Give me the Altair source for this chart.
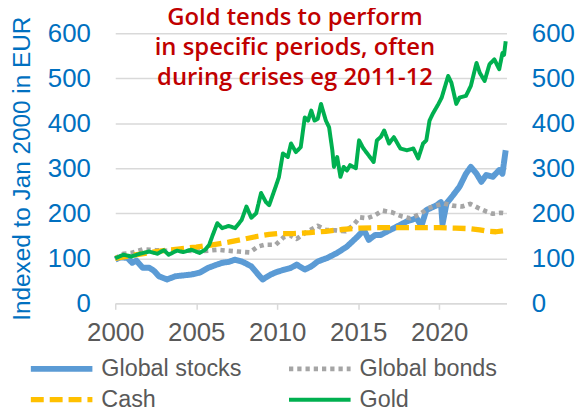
import altair as alt
import pandas as pd

# ---- data ----
series_names = ["Global stocks", "Global bonds", "Cash", "Gold"]   # drawing order
legend_order = ["Global stocks", "Cash", "Global bonds", "Gold"]   # column-major legend order
legend_colors = ["#5B9BD5", "#FFC000", "#A5A5A5", "#00B050"]
legend_dashes = [[1, 0], [13, 6], [4.3, 4], [1, 0]]
legend_widths = [6, 4, 4.5, 3]

stocks_year = [2000.0, 2000.3, 2000.75, 2001.05, 2001.3, 2001.7, 2002.1, 2002.4, 2002.7, 2003.2,
               2003.7, 2004.2, 2004.7, 2005.2, 2005.75, 2006.2, 2006.6, 2007.0, 2007.4, 2007.8,
               2008.1, 2008.4, 2008.8, 2009.1, 2009.6, 2010.0, 2010.45, 2010.8, 2011.2, 2011.7,
               2012.1, 2012.5, 2013.1, 2013.7, 2014.3, 2014.95, 2015.35, 2015.65, 2016.05, 2016.4,
               2016.8, 2017.2, 2018.0, 2018.6, 2018.9, 2019.2, 2019.85, 2020.1, 2020.2, 2020.45,
               2020.85, 2021.25, 2021.65, 2021.95, 2022.3, 2022.6, 2022.9, 2023.3, 2023.7, 2023.9,
               2024.1]
stocks_value = [97, 102, 101, 90, 95, 79, 79, 72, 60, 53,
                60, 62, 64, 68, 79, 85, 90, 92, 97, 93,
                88, 82, 65, 53, 64, 70, 75, 78, 86, 75,
                82, 93, 101, 112, 126, 148, 163, 141, 152, 152,
                160, 167, 182, 189, 172, 207, 218, 225, 176, 222,
                240, 259, 288, 303, 288, 270, 285, 281, 296, 288,
                340]

bonds_year = [2000.0, 2000.5, 2001.0, 2001.7, 2002.5, 2003.5, 2004.5, 2005.1, 2006.3, 2006.9,
              2007.6, 2008.3, 2008.8, 2009.2, 2009.9, 2010.4, 2010.8, 2011.2, 2011.7, 2012.5,
              2013.0, 2013.6, 2014.2, 2014.7, 2015.1, 2015.55, 2016.0, 2016.5, 2017.1, 2017.7,
              2018.2, 2018.8, 2019.3, 2019.8, 2020.3, 2020.8, 2021.4, 2021.9, 2022.4, 2022.9,
              2023.3, 2023.8, 2024.1]
bonds_value = [100, 110, 112, 120, 118, 116, 117, 115, 119, 117,
               115, 113, 126, 130, 130, 147, 151, 143, 156, 172,
               163, 162, 160, 174, 191, 189, 195, 206, 202, 193,
               189, 198, 211, 217, 222, 217, 215, 221, 212, 204,
               199, 201, 200]

cash_year = [2000.0, 2001.0, 2002.0, 2003.0, 2004.0, 2005.0, 2006.0, 2007.0, 2008.0, 2008.8,
             2009.5, 2010.0, 2011.0, 2012.0, 2013.0, 2014.0, 2015.0, 2016.0, 2017.0, 2018.0,
             2019.0, 2020.0, 2021.0, 2021.8, 2022.5, 2023.0, 2023.5, 2024.1]
cash_value = [100, 106, 112, 117, 121, 125, 130, 136, 143, 149,
              153, 155, 155, 157, 160, 164, 167, 168, 168, 168,
              168, 168, 167, 166, 163, 160, 159, 162]

gold_year = [2000.0, 2000.5, 2001.0, 2001.5, 2002.1, 2002.6, 2003.0, 2003.3, 2003.8, 2004.2,
             2004.7, 2005.2, 2005.55, 2005.8, 2006.0, 2006.3, 2006.6, 2007.0, 2007.4, 2007.8,
             2008.1, 2008.4, 2008.7, 2009.0, 2009.3, 2009.5, 2009.9, 2010.1, 2010.35, 2010.65,
             2010.85, 2011.15, 2011.45, 2011.7, 2011.9, 2012.1, 2012.3, 2012.5, 2012.7, 2013.0,
             2013.2, 2013.4, 2013.5, 2013.7, 2013.9, 2014.1, 2014.3, 2014.5, 2014.85, 2015.05,
             2015.3, 2015.55, 2015.95, 2016.15, 2016.4, 2016.6, 2016.9, 2017.2, 2017.6, 2018.0,
             2018.4, 2018.7, 2019.0, 2019.2, 2019.4, 2019.6, 2019.95, 2020.15, 2020.55, 2020.75,
             2021.05, 2021.25, 2021.65, 2021.95, 2022.3, 2022.5, 2022.8, 2023.1, 2023.4, 2023.7,
             2023.9, 2024.0, 2024.1]
gold_value = [100, 108, 104, 110, 115, 110, 118, 108, 117, 114,
              119, 112, 119, 130, 150, 178, 167, 172, 167, 185,
              215, 190, 200, 245, 225, 218, 259, 280, 333, 325,
              355, 336, 347, 413, 406, 428, 406, 410, 443, 406,
              391, 340, 303, 325, 281, 303, 295, 307, 300, 362,
              345, 333, 314, 362, 370, 384, 355, 369, 344, 340,
              344, 322, 355, 362, 406, 421, 443, 457, 505, 490,
              443, 457, 461, 483, 534, 512, 494, 531, 542, 520,
              556, 552, 582]

x_ticks = [2000, 2005, 2010, 2015, 2020]
y_ticks = [0, 100, 200, 300, 400, 500, 600]
title_lines = ["Gold tends to perform", "in specific periods, often", "during crises eg 2011-12"]

# ---- build table ----
frames = []
for name, yrs, vals in [("Global stocks", stocks_year, stocks_value),
                        ("Global bonds", bonds_year, bonds_value),
                        ("Cash", cash_year, cash_value),
                        ("Gold", gold_year, gold_value)]:
    frames.append(pd.DataFrame({"series": name, "year": yrs, "value": vals}))
df = pd.concat(frames, ignore_index=True)

FONT = "Liberation Sans"
BLUE = "#0070C0"
GREY = "#595959"
GRID = "#D9D9D9"

legend = alt.Legend(
    title=None, orient="none", legendX=-88, legendY=323, columns=2,
    symbolType="stroke", symbolSize=3844, labelFontSize=23.5, labelColor=GREY,
    labelFont=FONT, labelOffset=6, columnPadding=44, rowPadding=1, padding=0,
    clipHeight=30, labelLimit=300,
)

x_enc = alt.X("year:Q", scale=alt.Scale(domain=[2000, 2024.15], nice=False, zero=False),
              axis=alt.Axis(values=x_ticks, format="d", title=None, grid=False,
                            domainColor=GRID, domainWidth=1.5, tickColor=GRID, tickWidth=1.5,
                            tickSize=6, labelFontSize=26, labelColor=GREY, labelFont=FONT,
                            labelPadding=10, labelFlush=False))
y_scale = alt.Scale(domain=[0, 600], nice=False)
left_axis = alt.Axis(values=y_ticks, title="Indexed to Jan 2000 in EUR", domain=False, ticks=False,
                     grid=True, gridColor=GRID, gridWidth=1.5, labelFontSize=26, labelColor=BLUE,
                     labelFont=FONT, labelPadding=25, titleColor=BLUE, titleFontSize=24.5,
                     titleFontWeight="normal", titleFont=FONT, titlePadding=13)
right_axis = alt.Axis(values=y_ticks, title=None, orient="right", domain=False, ticks=False,
                      grid=False, labelFontSize=26, labelColor=BLUE, labelFont=FONT,
                      labelPadding=25)

color_enc = alt.Color("series:N", scale=alt.Scale(domain=legend_order, range=legend_colors), legend=legend)
dash_enc = alt.StrokeDash("series:N", scale=alt.Scale(domain=legend_order, range=legend_dashes),
                          legend=legend)
width_enc = alt.StrokeWidth("series:N", scale=alt.Scale(domain=legend_order, range=legend_widths),
                            legend=legend)

layers = []
for name in series_names:
    if name == "Global stocks":
        yax = left_axis
    elif name == "Gold":
        yax = right_axis
    else:
        yax = None
    layer = alt.Chart(df).transform_filter(alt.datum.series == name).mark_line(
        strokeCap="butt", strokeJoin="round"
    ).encode(
        x=x_enc,
        y=alt.Y("value:Q", scale=y_scale, axis=yax),
        color=color_enc,
        strokeDash=dash_enc,
        strokeWidth=width_enc,
    )
    layers.append(layer)

chart = alt.layer(*layers).resolve_scale(y="independent").properties(
    width=394, height=272,
    autosize=alt.AutoSizeParams(type="none"),
    padding={"left": 108, "top": 24, "right": 70, "bottom": 103},
    title=alt.TitleParams(text=title_lines, color="#C00000", font="Open Sans", fontSize=24,
                          fontWeight=600, anchor="middle", dx=-16, baseline="top",
                          offset=0, lineHeight=30, dy=74),
).configure_view(stroke=None)

chart.save("out.html", embed_options={"renderer": "svg", "actions": False})
